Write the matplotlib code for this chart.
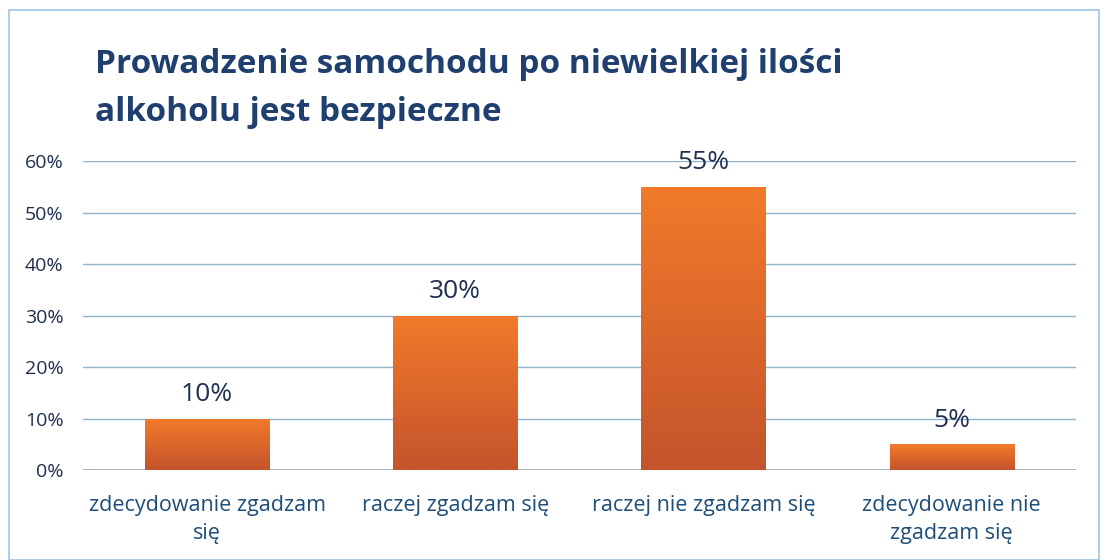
import matplotlib.pyplot as plt
from matplotlib.patches import Rectangle
from matplotlib.colors import LinearSegmentedColormap
import numpy as np

categories = ["zdecydowanie zgadzam\nsię", "raczej zgadzam się",
              "raczej nie zgadzam się", "zdecydowanie nie\nzgadzam się"]
values = [0.10, 0.30, 0.55, 0.05]
labels = ["10%", "30%", "55%", "5%"]
yticks = [0, 0.1, 0.2, 0.3, 0.4, 0.5, 0.6]
ytick_labels = ["0%", "10%", "20%", "30%", "40%", "50%", "60%"]

plt.rcParams['font.family'] = ['Open Sans', 'DejaVu Sans']

fig = plt.figure(figsize=(11.01, 5.6), dpi=100)
ax = fig.add_axes([0.0754, 0.1607, 0.9016, 0.5518])

# ramka wokół wykresu
fig.patches.append(Rectangle((0.008, 0.0), 0.99, 0.982, transform=fig.transFigure,
                             fill=False, edgecolor='#9DC3E6', linewidth=1.2))

x = np.arange(len(categories))
bars = ax.bar(x, values, width=0.5, color='#E8692C', zorder=2)

# gradient na słupkach
grad = np.linspace(0, 1, 100).reshape(-1, 1)
cmap = LinearSegmentedColormap.from_list('bar', ['#C4542C', '#F27A2A'])
for b in bars:
    im = ax.imshow(grad, cmap=cmap, aspect='auto', origin='lower',
                   extent=[b.get_x(), b.get_x() + b.get_width(), 0, b.get_height()],
                   zorder=3)
    im.set_clip_path(b)

for i, v in enumerate(values):
    ax.text(x[i], v + 0.022, labels[i], ha='center', va='bottom',
            fontsize=19, color='#1F2F4F', zorder=4)

ax.set_xlim(-0.5, 3.5)
ax.set_ylim(0, 0.6)
ax.set_yticks(yticks)
ax.set_yticklabels(ytick_labels, fontsize=14, color='#1F2F4F')
ax.set_xticks(x)
ax.set_xticklabels(categories, fontsize=15.5, color='#1F4E79', linespacing=1.45)
ax.tick_params(length=0, axis='y', pad=14)
ax.tick_params(length=0, axis='x', pad=18)
ax.grid(axis='y', color='#8FB4CC', linewidth=1, zorder=0)
for s in ax.spines.values():
    s.set_visible(False)
ax.axhline(0, color='#A0A8B0', linewidth=1.2, zorder=1)

fig.text(0.086, 0.915, "Prowadzenie samochodu po niewielkiej ilości\nalkoholu jest bezpieczne",
         fontsize=24, fontweight='bold', color='#1F3F6F', ha='left', va='top',
         linespacing=1.6)

plt.savefig('out.png', dpi=100)
